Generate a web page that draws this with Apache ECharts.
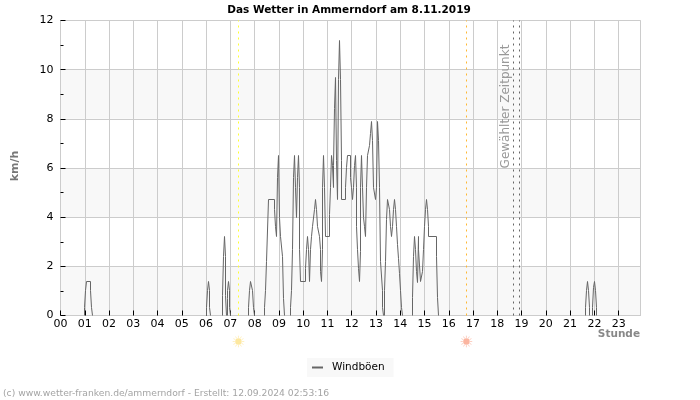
<!DOCTYPE html>
<html><head><meta charset="utf-8">
<script src="https://cdn.jsdelivr.net/npm/echarts@6/dist/echarts.min.js"></script>
<style>html,body{margin:0;padding:0;background:#fff}#c{width:700px;height:400px}</style></head>
<body><div id="c"></div>
<script>
const title = 'Das Wetter in Ammerndorf am 8.11.2019';
const footer = '(c) www.wetter-franken.de/ammerndorf - Erstellt: 12.09.2024 02:53:16';
const seriesName = 'Windböen';
const xMax = 1434;
const yMax = 12;
const sunEvents = [[440, '#ffff33', '#fde8a0'], [1003.6, '#ffb833', '#fbb5a0']];
const selectedTimes = [1120, 1134];
// [minute of day, km/h]; the value holds until the next entry
const gusts = [
[0,0],[59,.34],[61.5,1],[64,1.4],[74.5,1],[77,.34],[79.5,0],
[361.7,.34],[363.4,1],[365.9,1.4],[367.5,1],[369.1,.34],[370.8,0],
[400.5,.8],[403,2.4],[405.5,3.2],[407,2.4],[408.8,.8],[410.4,0],[412,.7],[413.6,1],[415.3,1.4],[416.9,1],[418.6,.34],[420.3,0],
[464,.34],[467.2,1],[469.6,1.4],[475.4,1],[477.9,.34],[480.4,0],
[503.5,.34],[506,1],[510,2.2],[513.5,4.7],[530,4.3],[532.5,3.6],[535,3.2],[537.5,5.6],[539,6.5],[541.5,4],[543,3.2],[548.7,2.4],[551.2,.7],[553.7,0],
[568.7,.34],[571,1],[573.5,2.7],[576,5.6],[578.5,6.5],[581,5.2],[583.5,4],[586,5.6],[588.5,6.5],[590,5.2],[591.5,2.7],[594,1.4],
[606.5,1.9],[609,2.7],[611.5,3.2],[613,2.7],[615.5,1.4],[617.5,2.7],[619.8,3.2],[623.8,3.6],[627.8,4.3],[630.3,4.7],[632.8,4.3],[635.3,3.6],[639.3,3.2],[641.8,2.7],[643.8,1.8],[645.3,1.4],[646.8,2.7],[648.3,5.2],[650.8,6.5],[653.3,5.2],[655.8,3.2],
[665,4.1],[668,5.2],[670,6.5],[672,6.1],[674,5.2],[675.5,6.1],[677,8.4],[680,9.7],[682,6.3],[685,4.7],[687,9.6],[689.5,11.2],[692,9.6],[694,6.3],[695.5,4.7],
[705.5,5.2],[708,6],[709.5,6.5],[718,5.6],[720,5.2],[723,4.7],[725,5.2],[727,6.1],[729.5,6.5],[731,5.2],[733,3.6],[735,2.7],[737,1.9],[739,1.4],[741,2.6],[742.5,5.2],[745,6.5],[747.5,5.2],[750,4],[752.5,3.6],[755,3.2],[757.5,5.2],[760,6.5],[764,6.9],[766.5,7.4],[768.5,7.9],[771,7.1],[773.5,5.2],[779.5,4.7],[782,5.2],[783.5,7.9],[786,7.1],[788.5,5.2],
[792,2.2],[795.5,1],[797,.34],[798.5,0],[800.5,1],[802.5,2.2],[805.5,3.9],[808.5,4.7],[813.5,4.3],[815,3.6],[817.5,3.2],[820,3.6],[823.5,4.3],[826,4.7],[828.5,4.3],[831,3.6],[833.3,2.9],[835.8,2.3],[838.3,1.7],[839.8,1],[842.3,.34],[844.8,0],
[870.2,.75],[872.7,2.4],[875.2,3.2],[877.7,2.7],[879.2,1.8],[882.2,1.35],[884.1,3.2],[886.1,2.7],[889.1,1.4],[896,1.8],[898,2.7],[900,3.6],[902.5,4.3],[905,4.7],[907.5,4.3],[910,3.6],[911,3.2],[929.8,2.4],[931.8,.75],[934.8,0],
[1297.6,.34],[1301,1],[1302.6,1.4],[1305,1],[1306.7,.34],[1309,0],[1315,.34],[1317.5,1.15],[1320,1.4],[1321.6,1],[1324,.34],[1326,0],
[xMax,0]
];
const plotW = 580, plotH = 295;
const snapX = m => Math.round(m * plotW / xMax) * xMax / plotW;
const snapY = v => Math.round(v * plotH / yMax) * yMax / plotH;
// calm stretches sit on the axis and are not drawn in the reference: break the line there
const drawnGusts = [];
gusts.forEach((pt, i) => {
  drawnGusts.push([snapX(pt[0]), snapY(pt[1])]);
  const next = gusts[i + 1];
  if (pt[1] === 0 && next) { drawnGusts.push([snapX(pt[0]) + 0.01, null], [snapX(next[0]), 0]); }
});
const font = 'DejaVu Sans';
const chart = echarts.init(document.getElementById('c'), null, {renderer:'canvas'});
function vline(m, color){
  return {xAxis:snapX(m), lineStyle:{color:color, type:[2,4], width:1}, label:{show:false}};
}
chart.setOption({
  animation:false,
  backgroundColor:'#fff',
  textStyle:{fontFamily:font},
  title:{text:title,left:344,textAlign:'center',top:0,textStyle:{fontFamily:font,fontSize:10.5,fontWeight:'bold',color:'#000'}},
  grid:{left:60.5,right:59.5,top:20.5,bottom:84.5,show:true,borderColor:'#ccc',borderWidth:1,backgroundColor:'transparent'},
  legend:{show:true,left:307,top:358,data:[{name:seriesName,icon:'rect'}],itemWidth:11,itemHeight:2,backgroundColor:'#f8f8f8',padding:[4,9,4,5],
    textStyle:{fontFamily:font,fontSize:10.5,color:'#000',padding:[0,0,0,4]}},
  xAxis:{type:'value',min:0,max:xMax,interval:60,
    axisLine:{show:true,onZero:false,lineStyle:{color:'#ccc'}},
    axisTick:{show:true,inside:true,length:5,lineStyle:{color:'#000'}},
    axisLabel:{fontFamily:font,fontSize:11,color:'#000',margin:3,showMaxLabel:false,formatter:v=>String(v/60).padStart(2,'0')},
    splitLine:{show:true,lineStyle:{color:'#ccc',width:1}}},
  yAxis:{type:'value',min:0,max:yMax,interval:2,
    axisLine:{show:true,lineStyle:{color:'#ccc'}},
    axisTick:{show:true,inside:true,length:5,lineStyle:{color:'#000'}},
    minorTick:{show:true,splitNumber:2,length:3,lineStyle:{color:'#000'}},
    axisLabel:{fontFamily:font,fontSize:11,color:'#000',margin:7},
    splitLine:{show:true,lineStyle:{color:'#ccc',width:1}},
    splitArea:{show:true,areaStyle:{color:['#f8f8f8','#ffffff']}}},
  series:[
    {name:seriesName,type:'line',step:'end',data:drawnGusts,showSymbol:false,symbol:'none',sampling:false,connectNulls:false,
     lineStyle:{color:'#666',width:1},itemStyle:{color:'#666'},
     markLine:{silent:true,symbol:'none',precision:6,animation:false,
       data:[vline(sunEvents[0][0],sunEvents[0][1]),vline(sunEvents[1][0],sunEvents[1][1]),
             vline(selectedTimes[0],'#666'),vline(selectedTimes[1],'#666')]}},
    {name:'sun',type:'custom',data:sunEvents.map(s=>[s[0],0,s[2]]),clip:false,silent:true,z:5,
     renderItem(params,api){
       const p=api.coord([api.value(0),0]);
       const cx=p[0],cy=p[1]+26,col=sunEvents[params.dataIndex][2];
       const kids=[{type:'circle',shape:{cx,cy,r:3.2},style:{fill:col}}];
       for(let i=0;i<12;i++){const a=i*Math.PI/6;
         kids.push({type:'line',shape:{x1:cx+3.6*Math.cos(a),y1:cy+3.6*Math.sin(a),x2:cx+5.8*Math.cos(a),y2:cy+5.8*Math.sin(a)},style:{stroke:col,lineWidth:.8,opacity:.8}});}
       return {type:'group',children:kids};
     }}
  ],
  graphic:[
    {type:'text',z:100,x:15,y:166,rotation:Math.PI/2,style:{text:'km/h',font:'bold 11px "DejaVu Sans"',fill:'#777',textAlign:'center',textVerticalAlign:'middle'}},
    {type:'text',z:100,x:640,y:334,style:{text:'Stunde',font:'bold 10.5px "DejaVu Sans"',fill:'#888',textAlign:'right',textVerticalAlign:'middle'}},
    {type:'text',z:100,x:506,y:106.5,rotation:Math.PI/2,style:{text:'Gewählter Zeitpunkt',font:'12px "DejaVu Sans"',fill:'#999',textAlign:'center',textVerticalAlign:'middle'}},
    {type:'text',z:100,x:3,y:394,style:{text:footer,font:'9.2px "DejaVu Sans"',fill:'#a4a4a4',textAlign:'left',textVerticalAlign:'middle'}}
  ]
});
</script></body></html>
